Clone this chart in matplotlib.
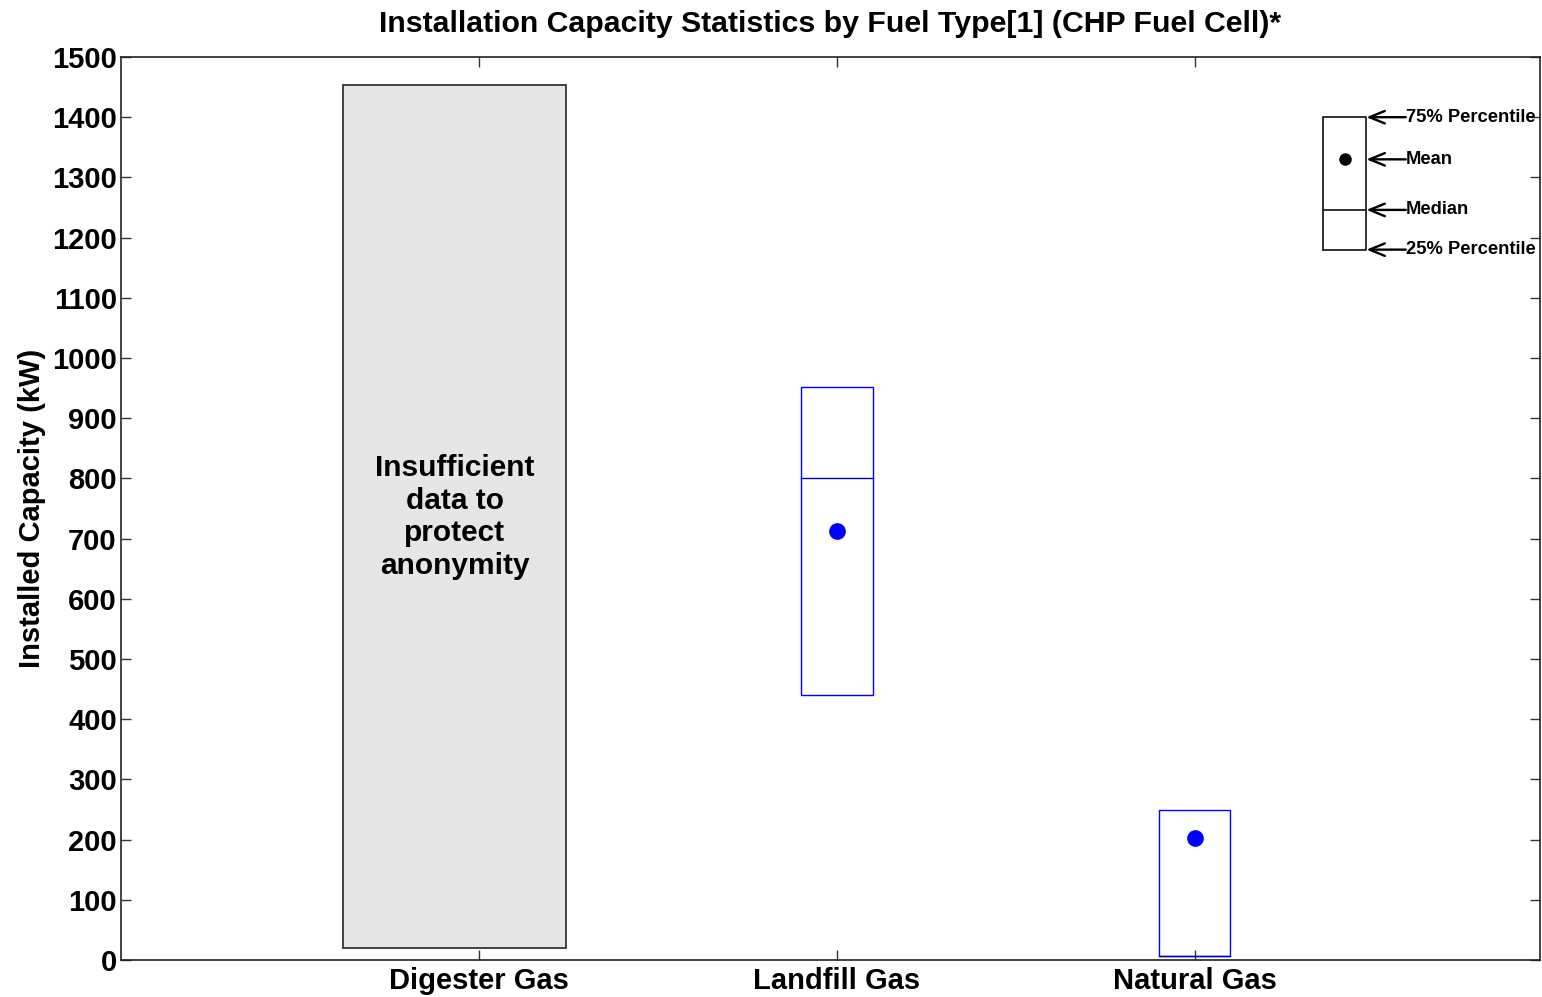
import matplotlib
matplotlib.use("Agg")
import matplotlib.pyplot as plt
import numpy as np

plt.rcParams['font.family'] = ['Liberation Sans', 'DejaVu Sans']
plt.rcParams['font.weight'] = 'bold'

categories = ['Digester Gas', 'Landfill Gas', 'Natural Gas']
positions = [1, 2, 3]
# Landfill Gas and Natural Gas statistics (kW)
stat_positions = [2, 3]
p75 = [952, 250]
median = [800, 6]
p25 = [440, 6]
mean = [713, 203]
# Digester Gas: suppressed (grey placeholder)
suppressed_low = 20
suppressed_high = 1453
suppressed_text = "Insufficient\ndata to\nprotect\nanonymity"

# legend key values
legend_p75 = 1400
legend_mean = 1330
legend_median = 1246
legend_p25 = 1180
legend_labels = ['75% Percentile', 'Mean', 'Median', '25% Percentile']

yticks = list(range(0, 1501, 100))

fig = plt.figure(figsize=(15.42, 9.97), dpi=100)
ax = fig.add_axes([121/1542, 37/997, 1419/1542, 903/997])

# suppressed grey box
ax.bar(0.932, suppressed_high - suppressed_low, bottom=suppressed_low, width=0.621,
       color='#e6e6e6', edgecolor='#333333', linewidth=1.3, zorder=1)
ax.text(0.932, 736, suppressed_text, ha='center', va='center', fontsize=21.5,
        fontweight='bold', linespacing=1.22, zorder=3)

# statistic boxes
hi = np.array(p75); lo = np.array(p25)
ax.bar(stat_positions, hi - lo, bottom=lo, width=0.2, fill=False,
       edgecolor='blue', linewidth=1.0, zorder=2)
for x, m in zip(stat_positions, median):
    ax.plot([x - 0.1, x + 0.1], [m, m], color='#0000aa', lw=1.0, zorder=2)
ax.plot(stat_positions, mean, 'o', color='blue', ms=11, zorder=3)

# legend key
lx0, lx1 = 3.36, 3.48
ax.plot([lx0, lx1, lx1, lx0, lx0],
        [legend_p25, legend_p25, legend_p75, legend_p75, legend_p25],
        color='#222222', lw=1.3, clip_on=False)
ax.plot([lx0, lx1], [legend_median, legend_median], color='#222222', lw=1.3)
ax.plot([(lx0 + lx1) / 2], [legend_mean], 'o', color='black', ms=8)
for val, lab in zip([legend_p75, legend_mean, legend_median, legend_p25], legend_labels):
    ax.annotate('', xy=(lx1, val), xytext=(3.59, val),
                arrowprops=dict(arrowstyle='->,head_length=1.1,head_width=0.45',
                                color='black', lw=1.7, shrinkA=0, shrinkB=0))
    ax.text(3.59, val, lab, ha='left', va='center', fontsize=13.2, fontweight='bold')

ax.set_xlim(0, 3.965)
ax.set_ylim(0, 1500)
ax.set_xticks(positions)
ax.set_xticklabels(categories, fontsize=21, fontweight='bold')
ax.set_yticks(yticks)
ax.set_yticklabels([str(v) for v in yticks], fontsize=21, fontweight='bold')
ax.tick_params(direction='in', length=7, width=1, top=True, right=True, pad=3,
               color='#333333')
ax.tick_params(axis='x', pad=5)
for s in ax.spines.values():
    s.set_linewidth(1.2)
    s.set_color('#222222')

ax.set_ylabel('Installed Capacity (kW)', fontsize=21, fontweight='bold', labelpad=4)
ax.set_title('Installation Capacity Statistics by Fuel Type[1] (CHP Fuel Cell)*',
             fontsize=21.8, fontweight='bold', pad=18)

fig.savefig('out.png', dpi=100)
